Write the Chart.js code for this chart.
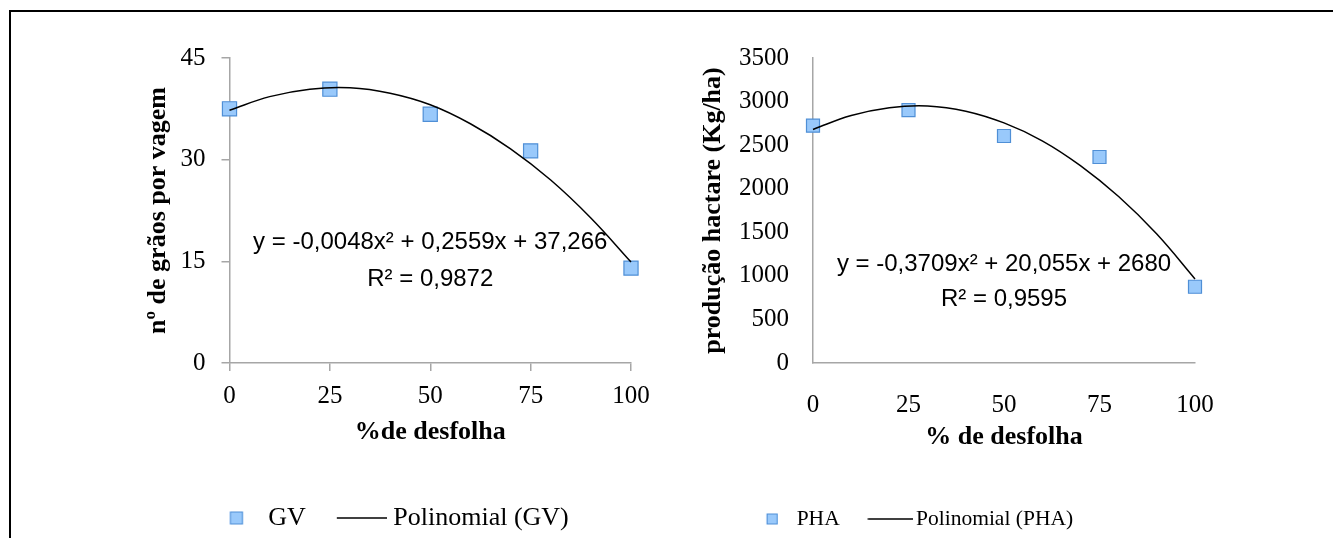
<!DOCTYPE html>
<html>
<head>
<meta charset="utf-8">
<script src="https://cdn.jsdelivr.net/npm/chart.js@4.4.1/dist/chart.umd.min.js"></script>
<style>
body { margin:0; background:#fff; overflow:hidden; width:1333px; height:538px; position:relative; }
#frame { position:absolute; left:9px; top:10px; width:1400px; height:600px; border:2.5px solid #000; }
#gv { position:absolute; left:0; top:0; }
#pha { position:absolute; left:600px; top:0; }
</style>
</head>
<body>
<div id="frame"></div>
<canvas id="gv" width="670" height="600"></canvas>
<canvas id="pha" width="733" height="600"></canvas>
<script>
// % de desfolha
const xTicks = [0, 25, 50, 75, 100];
const pointX = [0, 25, 50, 75, 100];
const curveX = [0, 10, 20, 30, 40, 50, 60, 70, 80, 90, 100];

// nº de grãos por vagem
const gvY = [37.5, 40.4, 36.7, 31.3, 14.0];
const gvCurve = [37.3, 39.3, 40.4, 40.6, 39.8, 38.1, 35.3, 31.6, 27.0, 21.4, 14.9];
const gvEquation = ['y = -0,0048x² + 0,2559x + 37,266', 'R² = 0,9872'];

// produção hactare (Kg/ha)
const phaY = [2723, 2903, 2605, 2364, 875];
const phaCurve = [2680, 2840, 2930, 2950, 2890, 2755, 2550, 2265, 1910, 1480, 965];
const phaEquation = ['y = -0,3709x² + 20,055x + 2680', 'R² = 0,9595'];

const grey = '#a6a6a6';
const fill = '#99C9FB';
const edge = '#4F8FD6';

function squareIcon(left, side) {
  const c = document.createElement('canvas');
  c.width = 40; c.height = Math.ceil(side) + 2;
  const g = c.getContext('2d');
  g.fillStyle = fill;
  g.strokeStyle = edge;
  g.fillRect(left, 1, side, side);
  g.strokeRect(left + 0.5, 1.5, side - 1, side - 1);
  return c;
}

function lineIcon(w, left) {
  const c = document.createElement('canvas');
  c.width = w; c.height = 4;
  const g = c.getContext('2d');
  g.strokeStyle = '#000';
  g.lineWidth = 1.5;
  g.beginPath();
  g.moveTo(left, 2);
  g.lineTo(w, 2);
  g.stroke();
  return c;
}

const equationPlugin = {
  id: 'equation',
  afterDraw(chart, args, opts) {
    const ctx = chart.ctx;
    const px = chart.scales.x.getPixelForValue(opts.x);
    ctx.save();
    ctx.font = opts.size + 'px "Liberation Sans", Arial, sans-serif';
    ctx.fillStyle = '#000';
    ctx.textAlign = 'center';
    ctx.textBaseline = 'middle';
    opts.lines.forEach((t, i) => {
      ctx.fillText(t, px, chart.scales.y.getPixelForValue(opts.y[i]));
    });
    ctx.restore();
  }
};

function buildChart(id, o) {
  return new Chart(document.getElementById(id), {
    type: 'scatter',
    data: {
      datasets: [
        {
          label: o.label,
          data: pointX.map((x, i) => ({x: x, y: o.y[i]})),
          pointStyle: 'rect',
          pointRadius: o.r,
          backgroundColor: fill,
          borderColor: edge,
          borderWidth: 1.2,
          clip: false,
          order: 1
        },
        {
          label: 'Polinomial (' + o.label + ')',
          data: curveX.map((x, i) => ({x: x, y: o.curve[i]})),
          showLine: true,
          pointRadius: 0,
          borderColor: '#000',
          borderWidth: 1.5,
          tension: 0.4,
          clip: false,
          order: 0
        }
      ]
    },
    options: {
      responsive: false,
      animation: false,
      events: [],
      layout: { padding: o.pad },
      plugins: {
        tooltip: { enabled: false },
        equation: { x: 50, y: o.eqY, lines: o.eq, size: 24 },
        legend: {
          position: 'bottom',
          labels: {
            usePointStyle: true,
            pointStyleWidth: o.lg.box,
            padding: o.lg.gap,
            color: '#000',
            font: { family: '"Liberation Serif", "Times New Roman", serif', size: o.lg.size },
            generateLabels: chart => chart.data.datasets.map((ds, i) => ({
              text: ds.label,
              pointStyle: o.lg.icons[i],
              fillStyle: 'rgba(0,0,0,0)',
              strokeStyle: 'rgba(0,0,0,0)',
              lineWidth: 0,
              hidden: false,
              datasetIndex: i
            }))
          }
        }
      },
      scales: {
        x: {
          type: 'linear',
          min: 0,
          max: 100,
          afterBuildTicks: s => { s.ticks = xTicks.map(v => ({value: v})); },
          afterFit: s => { s.height = o.xH; },
          ticks: {
            color: '#000',
            padding: o.xPad,
            callback: v => String(v),
            font: { family: '"Liberation Serif", "Times New Roman", serif', size: 25 }
          },
          title: {
            display: true,
            text: o.xTitle,
            color: '#000',
            padding: { top: 0, bottom: o.xTitlePad },
            font: { family: '"Liberation Serif", "Times New Roman", serif', size: 26, weight: 'bold' }
          },
          grid: { display: o.ticks, drawOnChartArea: false, drawTicks: o.ticks, tickLength: 8, color: grey, lineWidth: 1.5 },
          border: { display: true, color: grey, width: 1.5 }
        },
        y: {
          min: 0,
          max: o.yMax,
          afterBuildTicks: s => { s.ticks = o.yTicks.map(v => ({value: v})); },
          afterFit: s => { s.width = o.yW; },
          ticks: {
            color: '#000',
            padding: o.yPad,
            callback: v => String(v),
            font: { family: '"Liberation Serif", "Times New Roman", serif', size: 25 }
          },
          title: {
            display: true,
            text: o.yTitle,
            color: '#000',
            padding: { top: o.yTitlePad, bottom: 0 },
            font: { family: '"Liberation Serif", "Times New Roman", serif', size: 26, weight: 'bold' }
          },
          grid: { display: o.ticks, drawOnChartArea: false, drawTicks: o.ticks, tickLength: 8, color: grey, lineWidth: 1.5 },
          border: { display: true, color: grey, width: 1.5 }
        }
      }
    },
    plugins: [equationPlugin]
  });
}

buildChart('gv', {
  label: 'GV',
  y: gvY,
  curve: gvCurve,
  r: 10,
  eq: gvEquation,
  eqY: [17.8, 12.4],
  yMax: 45,
  yTicks: [0, 15, 30, 45],
  xTitle: '%de desfolha',
  yTitle: 'nº de grãos por vagem',
  ticks: true,
  pad: { left: 145, right: 39, top: 58, bottom: 59 },
  yW: 84.5, yPad: 16, yTitlePad: -2.6,
  xH: 115.5, xPad: 10.5, xTitlePad: 30.9,
  lg: { size: 26, box: 48, gap: 26.5, icons: [squareIcon(18.7, 13), lineIcon(61, 11)] }
});

buildChart('pha', {
  label: 'PHA',
  y: phaY,
  curve: phaCurve,
  r: 9.2,
  eq: phaEquation,
  eqY: [1136, 734],
  yMax: 3500,
  yTicks: [0, 500, 1000, 1500, 2000, 2500, 3000, 3500],
  xTitle: '% de desfolha',
  yTitle: 'produção hactare (Kg/ha)',
  ticks: false,
  pad: { left: 20, right: 138, top: 58, bottom: 60.25 },
  yW: 193, yPad: 24, yTitlePad: 77.4,
  xH: 123.65, xPad: 27, xTitlePad: 34,
  lg: { size: 21.5, box: 44, gap: 21.6, icons: [squareIcon(22.7, 11), lineIcon(60, 14.4)] }
});
</script>
</body>
</html>
